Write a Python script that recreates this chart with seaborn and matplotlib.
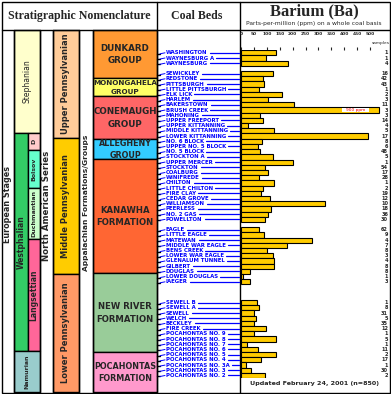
import matplotlib
matplotlib.use("Agg")
import matplotlib.pyplot as plt
import matplotlib.patches as mpatches
import pandas as pd
import seaborn as sns

# coal beds from top to bottom; None = empty row in the chart
coal_beds = ["WASHINGTON", "WAYNESBURG A", "WAYNESBURG", None,
             "SEWICKLEY", "REDSTONE", "PITTSBURGH", "LITTLE PITTSBURGH",
             "ELK LICK", "HARLEM", "BAKERSTOWN", "BRUSH CREEK", "MAHONING",
             "UPPER FREEPORT", "UPPER KITTANNING", "MIDDLE KITTANNING",
             "LOWER KITTANNING", "NO. 6 BLOCK", "UPPER NO. 5 BLOCK",
             "NO. 5 BLOCK", "STOCKTON A", "UPPER MERCER", "STOCKTON",
             "COALBURG", "WINIFREDE", "CHILTON", "LITTLE CHILTON",
             "FIRE CLAY", "CEDAR GROVE", "WILLIAMSON", "PEERLESS",
             "NO. 2 GAS", "POWELLTON", None, "EAGLE", "LITTLE EAGLE",
             "MATEWAN", "MIDDLE WAR EAGLE", "BENS CREEK", "LOWER WAR EAGLE",
             "GLENALUM TUNNEL", "GILBERT", "DOUGLAS", "LOWER DOUGLAS",
             "IAEGER", None, None, None, "SEWELL B", "SEWELL A", "SEWELL",
             "WELCH", "BECKLEY", "FIRE CREEK", "POCAHONTAS NO. 9",
             "POCAHONTAS NO. 8", "POCAHONTAS NO. 7", "POCAHONTAS NO. 6",
             "POCAHONTAS NO. 5", "POCAHONTAS NO. 4", "POCAHONTAS NO. 3A",
             "POCAHONTAS NO. 3", "POCAHONTAS NO. 2"]
barium_ppm = [134, 98, 181, None,
              123, 84, 90, 71, 158, 106, 207, 900, 74, 87, 28, 129,
              494, 83, 67, 74, 125, 203, 93, 106, 70, 129, 87,
              78, 114, 327, 118, 106, 94, None, 71, 90,
              276, 180, 102, 125, 129, 129, 36, 9,
              36, None, None, None, 63, 71, 52,
              59, 52, 98, 52, 137, 24, 67, 137, 79, 21, 40, 94]
samples = [1, 1, 4, None,
           16, 42, 43, 1, 2, 3, 11, 3, 3, 14, 4, 5,
           17, 8, 6, 48, 5, 1, 54, 17, 28, 1, 2,
           19, 12, 10, 18, 36, 30, None, 62, 9,
           4, 7, 8, 3, 4, 8, 8, 1,
           3, None, None, None, 1, 8, 31,
           5, 35, 12, 1, 5, 1, 11, 2, 17, 1, 30, 2]
tick_values = [0, 50, 100, 150, 200, 250, 300, 350, 400, 450, 500]

# stratigraphic units: (label, x0, x1, top, bottom, colour)
strat_units = [
    ("Stephanian", 14, 40, 30, 133, "#ffffcc"),
    ("Westphalian", 14, 28, 133, 351, "#33cc66"),
    ("D", 28, 40, 133, 150, "#ffcccc"),
    ("Bolsov", 28, 40, 150, 188, "#66ffcc"),
    ("Duchmantian", 28, 40, 188, 239, "#ccffcc"),
    ("Langsettian", 28, 40, 239, 351, "#ff6699"),
    ("Namurian", 14, 40, 351, 392, "#99cccc"),
    ("Upper Pennsylvanian", 53, 79, 30, 138, "#ffcc99"),
    ("Middle Pennsylvanian", 53, 79, 138, 274, "#ffcc00"),
    ("Lower Pennsylvanian", 53, 79, 274, 392, "#ff9966"),
]
groups = [
    ("DUNKARD\nGROUP", 30, 78, "#ff9933", 6.3),
    ("MONONGAHELA\nGROUP", 78, 96, "#ffff66", 5.2),
    ("CONEMAUGH\nGROUP", 96, 139, "#ff6666", 6.3),
    ("ALLEGHENY\nGROUP", 139, 159, "#33ccff", 5.8),
    ("KANAWHA\nFORMATION", 159, 273, "#ff6633", 6.1),
    ("NEW RIVER\nFORMATION", 273, 352, "#99cc99", 6.1),
    ("POCAHONTAS\nFORMATION", 352, 392, "#ff99cc", 5.8),
]

W, H = 391, 394
BAR_TOP, BAR_BOT = 50.2, 378.1
BAR_X0, BAR_X1 = 241, 390
PX_PER_PPM = 129 / 500
XMAX = (BAR_X1 - BAR_X0) / PX_PER_PPM
BREAK_CAP = (379.3 - BAR_X0) / PX_PER_PPM

sns.set_style("white")
plt.rcParams["font.family"] = ["DejaVu Sans"]

fig = plt.figure(figsize=(W / 100, H / 100), dpi=100)
ax0 = fig.add_axes([0, 0, 1, 1])
ax0.set_xlim(0, W)
ax0.set_ylim(H, 0)
ax0.axis("off")

# frame and column rules
ax0.add_patch(mpatches.Rectangle((1.5, 1.5), 388, 391, fill=False, lw=1, ec="black"))
ax0.plot([1.5, 389.5], [29.5, 29.5], color="black", lw=1)
for x in [157, 240]:
    ax0.plot([x, x], [1.5, 392.5], color="black", lw=1)

for label, x0, x1, top, bot, col in strat_units:
    ax0.add_patch(mpatches.Rectangle((x0, top), x1 - x0, bot - top, fc=col, ec="black", lw=1))
    fs = 6 if "Penn" in label else (5.5 if label in ("Westphalian", "Langsettian", "Stephanian") else 4.5)
    ax0.text((x0 + x1) / 2, (top + bot) / 2, label, rotation=90, ha="center", va="center",
             fontsize=fs, fontweight="normal" if label == "Stephanian" else "bold")
for label, top, bot, col, fs in groups:
    ax0.add_patch(mpatches.Rectangle((93, top), 64, bot - top, fc=col, ec="black", lw=1))
    ax0.text(125, (top + bot) / 2 + 0.5, label, ha="center", va="center", fontsize=fs,
             fontweight="bold", linespacing=1.5)
for x in [14, 40, 53, 79, 93]:
    ax0.plot([x, x], [29.5, 392.5], color="black", lw=1)

ax0.text(8, 204, "European Stages", rotation=90, ha="center", va="center", fontsize=5.8, fontweight="bold")
ax0.text(46.5, 206, "North American Series", rotation=90, ha="center", va="center", fontsize=6.2, fontweight="bold")
ax0.text(86, 203, "Appalachian Formations/Groups", rotation=90, ha="center", va="center", fontsize=5.4, fontweight="bold")

# header
ax0.text(79, 16, "Stratigraphic Nomenclature", ha="center", va="center", fontsize=8.6,
         fontweight="bold", family="Liberation Serif")
ax0.text(197, 16, "Coal Beds", ha="center", va="center", fontsize=8.6,
         fontweight="bold", family="Liberation Serif")
ax0.text(314, 11, "Barium (Ba)", ha="center", va="center", fontsize=12,
         fontweight="bold", family="Liberation Serif")
ax0.text(314, 23.5, "Parts-per-million (ppm) on a whole coal basis", ha="center", va="center", fontsize=4.3)
ax0.text(381, 43, "samples", ha="center", va="center", fontsize=3.2)
ax0.text(315, 384, "Updated February 24, 2001 (n=850)", ha="center", va="center",
         fontsize=4.6, fontweight="bold")

# bar panel
rows = [f"r{i:02d}" for i in range(len(coal_beds))]
df = pd.DataFrame({"row": rows, "ppm": barium_ppm, "n": samples})
df = df.dropna(subset=["ppm"])
df["shown"] = df["ppm"].clip(upper=BREAK_CAP)

ax = fig.add_axes([BAR_X0 / W, 1 - BAR_BOT / H, (BAR_X1 - BAR_X0) / W, (BAR_BOT - BAR_TOP) / H])
sns.barplot(data=df, x="shown", y="row", order=rows, orient="h", color="#ffcc00",
            saturation=1, width=1.0, edgecolor="black", linewidth=0.8, ax=ax)
ax.set_facecolor("none")
ax.set_xlim(0, XMAX)
ax.set_ylim(len(rows) - 0.5, -0.5)
ax.set_xlabel("")
ax.set_ylabel("")
ax.set_yticks([])
ax.xaxis.tick_top()
ax.set_xticks(tick_values)
ax.set_xticklabels([str(v) for v in tick_values], fontsize=3.2, fontweight="bold")
ax.tick_params(axis="x", length=2, width=0.8, pad=8.5, direction="out")
for s in ax.spines.values():
    s.set_visible(False)

# broken bar for values beyond the scale
for _, r in df[df["ppm"] > BREAK_CAP].iterrows():
    i = rows.index(r["row"])
    lo = (341.7 - BAR_X0) / PX_PER_PPM
    hi = (369.3 - BAR_X0) / PX_PER_PPM
    ax.add_patch(mpatches.Rectangle((lo, i - 0.42), hi - lo, 0.84, fc="white", ec="none", zorder=5))
    ax.text((lo + hi) / 2, i, f"{int(r['ppm'])} ppm", color="red", fontsize=3.2,
            ha="center", va="center", zorder=6)

ytrans = ax.get_yaxis_transform()
for _, r in df.iterrows():
    i = rows.index(r["row"])
    ax.text(0.987, i, str(int(r["n"])), transform=ytrans, ha="right", va="center",
            fontsize=3.6, fontweight="bold", clip_on=False)

# coal bed names with leader lines
step = (BAR_BOT - BAR_TOP) / len(rows)
name_texts = []
for i, name in enumerate(coal_beds):
    if name is None:
        continue
    y = BAR_TOP + (i + 0.5) * step
    t = ax0.text(166, y, name, ha="left", va="center", fontsize=3.9, fontweight="bold", color="#0000ff")
    name_texts.append((t, y))
    ax0.plot([157, 160], [y + 1, y + 1], color="black", lw=1)
    ax0.plot([160, 165], [y + 1, y], color="#0000ff", lw=0.7)

fig.canvas.draw()
renderer = fig.canvas.get_renderer()
for t, y in name_texts:
    bb = t.get_window_extent(renderer)
    ax0.plot([bb.x1 + 2, 239], [y, y], color="#0000ff", lw=0.9)

fig.savefig("out.png", dpi=100)
